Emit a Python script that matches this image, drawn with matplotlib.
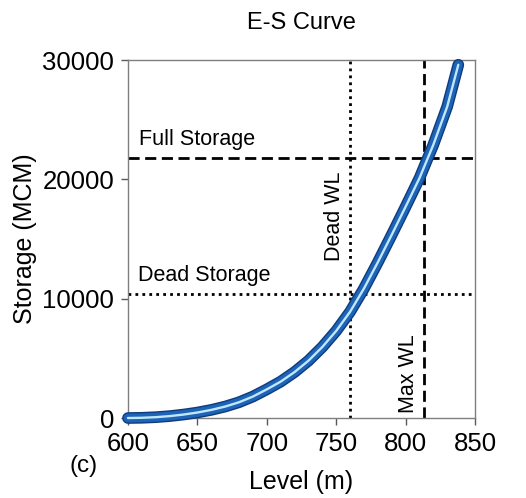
import numpy as np
import matplotlib.pyplot as plt
import matplotlib.patheffects as pe

plt.rcParams['font.family'] = ['Liberation Sans', 'DejaVu Sans']

# Elevation-storage readings
level = [600, 610, 620, 630, 640, 650, 660, 670, 680, 690, 700, 710, 720,
         730, 740, 750, 760, 770, 780, 790, 800, 810, 820, 830, 838]
storage = [0, 20, 70, 160, 290, 460, 680, 960, 1320, 1800, 2400, 3050, 3850,
           4800, 5950, 7300, 8900, 10850, 13050, 15350, 17700, 20100, 22900, 26100, 29600]

dead_wl = 760
max_wl = 813
dead_storage = 10400
full_storage = 21800

fig = plt.figure(figsize=(5.26, 4.98), dpi=100)
ax = fig.add_axes([0.2433, 0.1606, 0.6597, 0.7189])

# reference lines
ax.axvline(dead_wl, color='black', linestyle=(0, (1, 1.5)), linewidth=2)
ax.axvline(max_wl, color='black', linestyle=(0, (4, 2)), linewidth=2)
ax.axhline(dead_storage, color='black', linestyle=(0, (1, 1.5)), linewidth=2)
ax.axhline(full_storage, color='black', linestyle=(0, (4, 2)), linewidth=2)

# curve: thick blue band with dark edge and a light centre line
ax.plot(level, storage, color='#1e63b8', linewidth=6.4, solid_capstyle='round',
        solid_joinstyle='round', clip_on=False, zorder=3,
        path_effects=[pe.Stroke(linewidth=8.4, foreground='#0d3c7c'), pe.Normal()])
ax.plot(level, storage, color='#bfe8fa', linewidth=1.7, solid_capstyle='round',
        solid_joinstyle='round', clip_on=False, zorder=4)

ax.text(608, 22500, 'Full Storage', fontsize=15.5, va='bottom', ha='left')
ax.text(607, 11100, 'Dead Storage', fontsize=15.5, va='bottom', ha='left')
ax.text(756.5, 16900, 'Dead WL', fontsize=15.5, rotation=90, ha='right', va='center')
ax.text(809.5, 3700, 'Max WL', fontsize=15.5, rotation=90, ha='right', va='center')

ax.set_xlim(600, 850)
ax.set_ylim(0, 30000)
ax.set_xticks([600, 650, 700, 750, 800, 850])
ax.set_yticks([0, 10000, 20000, 30000])
ax.tick_params(labelsize=18.5, length=5, width=1, color='#595959', pad=5)
for s in ax.spines.values():
    s.set_color('#7f7f7f')
    s.set_linewidth(1)

ax.set_title('E-S Curve', fontsize=17, pad=22)
ax.set_xlabel('Level (m)', fontsize=18, labelpad=10)
ax.set_ylabel('Storage (MCM)', fontsize=18, labelpad=4)
fig.text(0.133, 0.065, '(c)', fontsize=17.5, ha='left', va='center')

fig.savefig('out.png', dpi=100)
